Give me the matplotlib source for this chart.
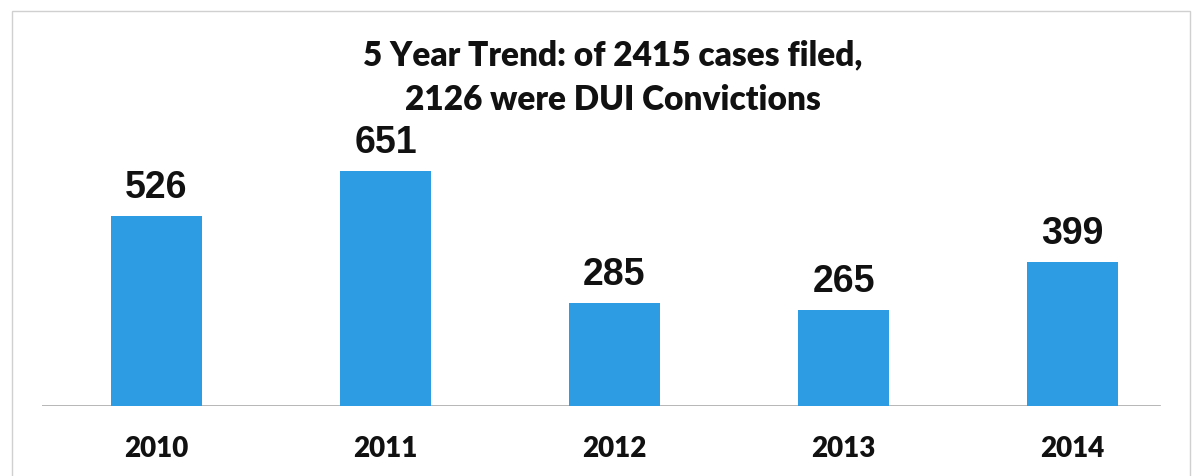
import matplotlib.pyplot as plt
from matplotlib.patches import Rectangle

years = ["2010", "2011", "2012", "2013", "2014"]
convictions = [526, 651, 285, 265, 399]
title = "5 Year Trend: of 2415 cases filed,\n2126 were DUI Convictions"

fig = plt.figure(figsize=(12.04, 4.77), dpi=100)
ax = fig.add_axes([42 / 1204, 70 / 477, 1145 / 1204, 340 / 477])

x = range(len(years))
bars = ax.bar(x, convictions, width=0.40, color="#2e9ce2", zorder=2)

for b, v in zip(bars, convictions):
    ax.annotate(str(v), (b.get_x() + b.get_width() / 2, v),
                xytext=(0, 8), textcoords="offset points",
                ha="center", va="bottom", fontsize=27, fontweight="bold",
                family="Liberation Sans", color="#111111")

ax.set_xlim(-0.5, 4.5)
ax.set_ylim(0, 340 / 0.361)
ax.axhline(0, xmin=0, xmax=1118 / 1145, color="#aaaaaa", lw=1.2, zorder=1)

ax.set_xticks(list(x))
ax.set_xticklabels(years, fontsize=20, fontweight="heavy", family="Lato", color="#111111")
ax.tick_params(axis="x", length=0, pad=21)
ax.set_yticks([])
for s in ax.spines.values():
    s.set_visible(False)

fig.text(613 / 1204, 1 - 78 / 477, title, ha="center", va="center",
         fontsize=24, fontweight="heavy", family="Lato", color="#111111",
         linespacing=1.5)

# рамка вокруг картинки
fig.patches.append(Rectangle((12 / 1204, -0.01), 1178 / 1204, 1 - 12 / 477 + 0.01,
                             transform=fig.transFigure, fill=False,
                             edgecolor="#d0d0d0", lw=1))

fig.savefig("out.png", dpi=100)
